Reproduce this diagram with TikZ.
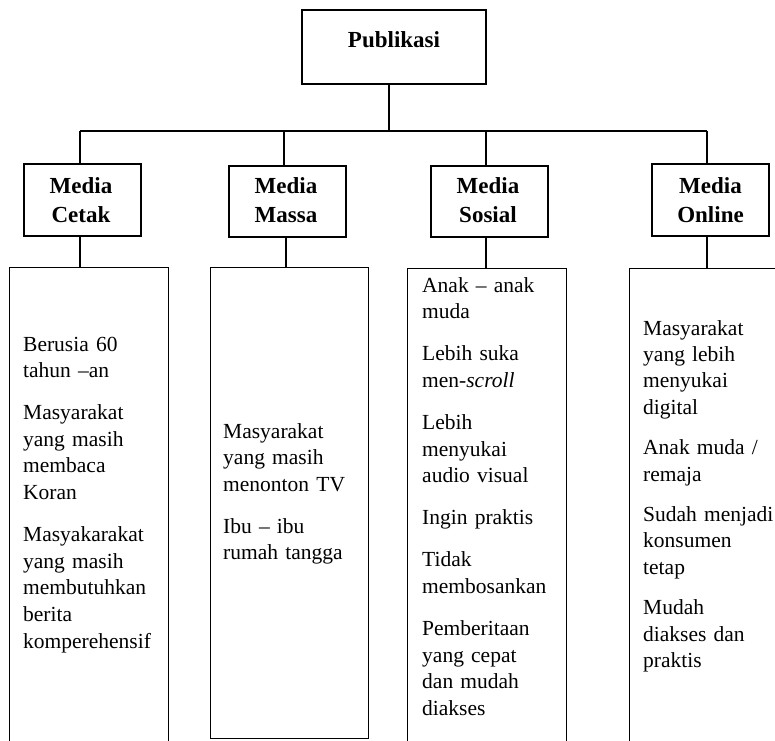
\documentclass[tikz,border=0pt]{standalone}
\usepackage{fontspec}
\setmainfont{Liberation Serif}
\tikzset{
  box/.style={draw, line width=1.1pt, inner sep=0pt, fill=none},
  conn/.style={line width=1.1pt},
  hdr/.style={font=\bfseries\fontsize{23}{29}\selectfont, align=center, text width=117pt, inner sep=0pt, anchor=base},
  body/.style={font=\fontsize{21.5}{26.6}\selectfont, align=left, text width=150pt, inner sep=0pt, anchor=base west},
}
\begin{document}
\begin{tikzpicture}[x=1pt,y=-1pt]
\clip (0,0) rectangle (775,740);
\fill[white] (0,0) rectangle (775,740);

% top box
\node[box, minimum width=184pt, minimum height=74pt] (pub) at (394,47) {};
\node[hdr] (pubt) at (394,47) {Publikasi};

% category boxes
\node[box, minimum width=117pt, minimum height=72pt] (cetak) at (82.5,200) {};
\node[hdr] (cetakt) at (81,193) {Media\\Cetak};
\node[box, minimum width=117pt, minimum height=71pt] (massa) at (287.5,201.5) {};
\node[hdr] (massat) at (286,193) {Media\\Massa};
\node[box, minimum width=117pt, minimum height=71pt] (sosial) at (489.5,201.5) {};
\node[hdr] (sosialt) at (488,193) {Media\\Sosial};
\node[box, minimum width=117pt, minimum height=72pt] (online) at (710.5,200) {};
\node[hdr] (onlinet) at (710.5,193) {Media\\Online};

% lower boxes
\node[box, anchor=north west, minimum width=159pt, minimum height=500pt] (b1) at (9,267) {};
\node[box, anchor=north west, minimum width=158pt, minimum height=471pt] (b2) at (209.5,267) {};
\node[box, anchor=north west, minimum width=159pt, minimum height=500pt] (b3) at (407,268) {};
\node[box, anchor=north west, minimum width=200pt, minimum height=500pt] (b4) at (629,268) {};

% connectors
\coordinate (hub) at (389,131);
\coordinate (h1) at (80,131);
\coordinate (h2) at (284,131);
\coordinate (h3) at (486,131);
\coordinate (h4) at (707,131);
\draw[conn] (hub |- pub.south) -- (hub);
\draw[conn] (h1) -- (h4);
\draw[conn] (h1) -- (h1 |- cetak.north);
\draw[conn] (h2) -- (h2 |- massa.north);
\draw[conn] (h3) -- (h3 |- sosial.north);
\draw[conn] (h4) -- (h4 |- online.north);

\coordinate (l1) at (80,0);
\coordinate (l2) at (286,0);
\coordinate (l3) at (486,0);
\coordinate (l4) at (707,0);
\draw[conn] (l1 |- cetak.south) -- (l1 |- b1.north);
\draw[conn] (l2 |- massa.south) -- (l2 |- b2.north);
\draw[conn] (l3 |- sosial.south) -- (l3 |- b3.north);
\draw[conn] (l4 |- online.south) -- (l4 |- b4.north);

% texts
\node[body] (t1) at (23,351) {Berusia 60\\tahun –an\\[15.5pt]Masyarakat\\yang masih\\membaca\\Koran\\[15.5pt]Masyakarakat\\yang masih\\membutuhkan\\berita\\komperehensif};
\node[body] (t2) at (223,438) {Masyarakat\\yang masih\\menonton TV\\[15.5pt]Ibu – ibu\\rumah tangga};
\node[body] (t3) at (422,292) {Anak – anak\\muda\\[15.5pt]Lebih suka\\men-\textit{scroll}\\[15.5pt]Lebih\\menyukai\\audio visual\\[15.5pt]Ingin praktis\\[15.5pt]Tidak\\membosankan\\[15.5pt]Pemberitaan\\yang cepat\\dan mudah\\diakses};
\node[body, font=\fontsize{21.5}{26.4}\selectfont] (t4) at (643,335) {Masyarakat\\yang lebih\\menyukai\\digital\\[14pt]Anak muda /\\remaja\\[14pt]Sudah menjadi\\konsumen\\tetap\\[14pt]Mudah\\diakses dan\\praktis};
\end{tikzpicture}
\end{document}
